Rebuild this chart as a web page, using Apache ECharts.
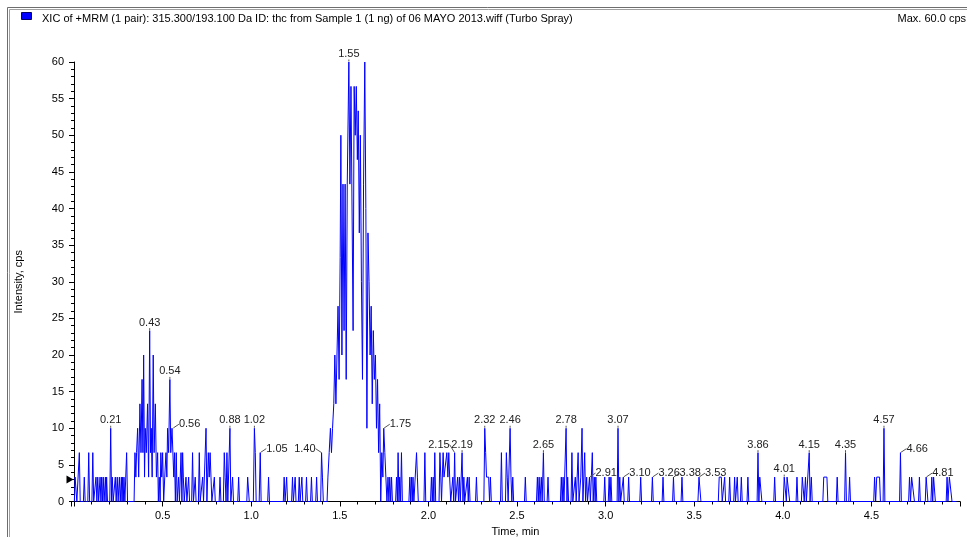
<!DOCTYPE html>
<html>
<head>
<meta charset="utf-8">
<script src="https://cdn.jsdelivr.net/npm/echarts@6/dist/echarts.min.js"></script>
<style>
  html, body { margin: 0; padding: 0; background: #ffffff; }
  #chart { width: 967px; height: 537px; }
</style>
</head>
<body>
<div id="chart"></div>
<script>
// Extracted ion chromatogram, MRM transition 315.3 -> 193.1 (THC)
const traceTitle = 'XIC of +MRM (1 pair): 315.300/193.100 Da ID: thc from Sample 1 (1 ng) of 06 MAYO 2013.wiff (Turbo Spray)';
const maxIntensityText = 'Max. 60.0 cps';
const xAxisTitle = 'Time, min';
const yAxisTitle = 'Intensity, cps';

// [retention time (min), intensity (cps)]
const xicTrace = [
  [0.002,0],[0.006,3.33],[0.011,3.33],[0.016,0],[0.025,0],[0.030,6.67],[0.035,0],[0.053,0],[0.058,3.33],[0.063,0],
  [0.078,0],[0.083,6.67],[0.088,0],[0.101,0],[0.106,6.67],[0.111,0],[0.119,0],[0.124,3.33],[0.129,0],[0.134,3.33],
  [0.139,0],[0.143,0],[0.147,3.33],[0.152,0],[0.156,3.33],[0.161,0],[0.165,3.33],[0.170,0],[0.173,0],[0.177,3.33],
  [0.181,0],[0.184,3.33],[0.189,0],[0.202,0],[0.207,10],[0.212,0],[0.216,3.33],[0.221,0],[0.229,0],[0.233,3.33],
  [0.238,0],[0.244,3.33],[0.249,0],[0.252,0],[0.256,3.33],[0.261,0],[0.267,3.33],[0.271,0],[0.274,3.33],[0.278,0],
  [0.282,3.33],[0.287,0],[0.292,0],[0.297,6.67],[0.302,0],[0.339,0],[0.344,6.67],[0.349,3.33],[0.353,6.67],[0.359,10],
  [0.365,3.33],[0.372,13.33],[0.378,6.67],[0.384,16.67],[0.389,6.67],[0.393,20],[0.398,3.33],[0.402,10],[0.408,6.67],[0.415,13.33],
  [0.421,3.33],[0.427,23.33],[0.432,6.67],[0.436,10],[0.441,3.33],[0.447,20],[0.452,6.67],[0.459,13.33],[0.465,3.33],[0.472,6.67],
  [0.476,0],[0.481,3.33],[0.486,0],[0.490,6.67],[0.495,3.33],[0.500,6.67],[0.506,0],[0.512,3.33],[0.519,6.67],[0.524,3.33],
  [0.528,10],[0.534,6.67],[0.541,16.67],[0.546,6.67],[0.553,10],[0.558,10],[0.563,3.33],[0.567,6.67],[0.572,0],[0.577,6.67],
  [0.582,0],[0.590,3.33],[0.595,0],[0.600,0],[0.604,6.67],[0.609,0],[0.613,6.67],[0.617,3.33],[0.622,0],[0.628,0],
  [0.632,3.33],[0.637,0],[0.643,0],[0.647,3.33],[0.652,0],[0.664,0],[0.669,6.67],[0.674,0],[0.680,0],[0.684,3.33],
  [0.689,0],[0.702,0],[0.707,6.67],[0.712,0],[0.721,0],[0.726,3.33],[0.731,0],[0.740,0],[0.745,10],[0.750,0],
  [0.754,3.33],[0.758,6.67],[0.763,3.33],[0.768,6.67],[0.773,3.33],[0.778,0],[0.787,0],[0.792,3.33],[0.797,0],[0.819,0],
  [0.824,3.33],[0.829,0],[0.843,0],[0.848,6.67],[0.853,3.33],[0.858,0],[0.863,6.67],[0.868,0],[0.875,0],[0.880,10],
  [0.885,0],[0.890,0],[0.895,3.33],[0.900,0],[0.924,0],[0.929,3.33],[0.934,0],[0.975,0],[0.980,3.33],[0.984,3.33],
  [0.989,0],[1.012,0],[1.018,10],[1.023,6.67],[1.028,0],[1.045,0],[1.051,6.67],[1.056,0],[1.093,0],[1.098,3.33],
  [1.103,0],[1.181,0],[1.186,3.33],[1.191,0],[1.196,0],[1.200,3.33],[1.205,0],[1.228,0],[1.233,3.33],[1.238,0],
  [1.243,0],[1.248,3.33],[1.253,0],[1.266,0],[1.271,3.33],[1.276,0],[1.281,0],[1.286,3.33],[1.291,0],[1.307,0],
  [1.312,3.33],[1.317,0],[1.335,0],[1.340,3.33],[1.345,0],[1.364,0],[1.369,3.33],[1.374,0],[1.392,0],[1.397,6.67],
  [1.402,3.33],[1.407,0],[1.428,0],[1.433,3.33],[1.440,6.67],[1.447,10],[1.453,6.67],[1.459,10],[1.466,13.33],[1.472,20],
  [1.478,13.33],[1.484,20],[1.490,26.67],[1.496,16.67],[1.502,33.33],[1.506,50],[1.512,20],[1.518,43.33],[1.524,23.33],[1.530,43.33],
  [1.536,16.67],[1.542,43.33],[1.551,60],[1.557,43.33],[1.563,56.67],[1.569,56.67],[1.575,23.33],[1.581,56.67],[1.587,50],[1.593,56.67],
  [1.599,46.67],[1.604,53.33],[1.610,36.67],[1.616,50],[1.622,30],[1.628,16.67],[1.634,43.33],[1.641,60],[1.647,40],[1.653,10],
  [1.659,36.67],[1.665,30],[1.671,20],[1.677,26.67],[1.683,13.33],[1.689,23.33],[1.695,16.67],[1.701,20],[1.707,10],[1.713,16.67],
  [1.719,6.67],[1.725,13.33],[1.731,0],[1.737,6.67],[1.743,3.33],[1.748,10],[1.754,6.67],[1.760,3.33],[1.766,0],[1.772,3.33],
  [1.777,0],[1.782,3.33],[1.787,0],[1.792,3.33],[1.797,0],[1.815,0],[1.820,3.33],[1.825,0],[1.829,6.67],[1.834,0],
  [1.838,3.33],[1.843,0],[1.848,6.67],[1.853,0],[1.890,0],[1.895,3.33],[1.900,0],[1.904,3.33],[1.909,0],[1.913,3.33],
  [1.918,0],[1.928,0],[1.933,6.67],[1.938,3.33],[1.943,0],[1.975,0],[1.980,6.67],[1.985,0],[2.012,0],[2.017,3.33],
  [2.022,0],[2.027,3.33],[2.031,0],[2.036,6.67],[2.041,0],[2.060,0],[2.065,6.67],[2.070,3.33],[2.074,0],[2.079,0],
  [2.083,6.67],[2.088,3.33],[2.093,3.33],[2.098,3.33],[2.104,6.67],[2.110,3.33],[2.115,6.67],[2.120,3.33],[2.126,0],[2.134,0],
  [2.138,3.33],[2.143,0],[2.148,6.67],[2.153,0],[2.160,0],[2.165,3.33],[2.170,0],[2.175,3.33],[2.180,0],[2.185,0],
  [2.190,6.67],[2.195,0],[2.200,3.33],[2.205,0],[2.215,0],[2.220,3.33],[2.225,0],[2.230,3.33],[2.235,0],[2.266,0],
  [2.271,3.33],[2.276,0],[2.313,0],[2.318,10],[2.323,6.67],[2.328,3.33],[2.334,3.33],[2.340,3.33],[2.345,0],[2.350,3.33],
  [2.355,0],[2.407,0],[2.412,6.67],[2.417,0],[2.435,0],[2.440,6.67],[2.445,3.33],[2.450,0],[2.456,0],[2.461,10],
  [2.466,3.33],[2.471,0],[2.476,3.33],[2.481,0],[2.542,0],[2.547,3.33],[2.552,0],[2.610,0],[2.615,3.33],[2.620,0],
  [2.625,3.33],[2.630,0],[2.637,3.33],[2.642,0],[2.649,6.67],[2.654,0],[2.670,0],[2.675,3.33],[2.680,0],[2.745,0],
  [2.750,3.33],[2.755,0],[2.760,3.33],[2.765,0],[2.772,0],[2.777,10],[2.782,0],[2.786,3.33],[2.791,0],[2.805,0],
  [2.810,6.67],[2.815,0],[2.824,0],[2.829,3.33],[2.834,0],[2.840,0],[2.845,6.67],[2.850,0],[2.855,0],[2.860,3.33],
  [2.867,10],[2.872,0],[2.877,0],[2.882,6.67],[2.887,0],[2.893,3.33],[2.898,0],[2.904,0],[2.909,3.33],[2.914,0],
  [2.920,0],[2.925,6.67],[2.930,0],[2.936,3.33],[2.941,0],[2.945,3.33],[2.950,0],[2.990,0],[2.995,3.33],[3.000,0],
  [3.015,0],[3.020,3.33],[3.025,0],[3.030,3.33],[3.035,0],[3.065,0],[3.070,10],[3.075,0],[3.080,3.33],[3.085,0],
  [3.095,0],[3.100,3.33],[3.105,0],[3.125,0],[3.130,3.33],[3.135,0],[3.193,0],[3.198,3.33],[3.203,0],[3.259,0],
  [3.264,3.33],[3.269,0],[3.319,0],[3.324,3.33],[3.329,0],[3.378,0],[3.383,3.33],[3.388,0],[3.426,0],[3.431,3.33],
  [3.436,0],[3.521,0],[3.527,3.33],[3.533,3.33],[3.538,0],[3.636,0],[3.641,3.33],[3.647,3.33],[3.653,3.33],[3.658,0],
  [3.667,0],[3.672,3.33],[3.677,0],[3.695,0],[3.700,3.33],[3.705,0],[3.723,0],[3.728,3.33],[3.733,0],[3.738,0],
  [3.743,3.33],[3.748,0],[3.761,0],[3.766,3.33],[3.771,0],[3.798,0],[3.803,3.33],[3.808,0],[3.855,0],[3.860,6.67],
  [3.865,0],[3.870,3.33],[3.876,3.33],[3.882,0],[3.949,0],[3.954,3.33],[3.959,0],[4.003,0],[4.008,3.33],[4.014,3.33],
  [4.020,0],[4.024,3.33],[4.029,3.33],[4.034,3.33],[4.039,0],[4.075,0],[4.080,3.33],[4.085,0],[4.105,0],[4.110,3.33],
  [4.116,3.33],[4.121,0],[4.128,3.33],[4.133,0],[4.144,0],[4.149,6.67],[4.154,0],[4.161,3.33],[4.166,0],[4.226,0],
  [4.231,3.33],[4.240,3.33],[4.249,3.33],[4.254,0],[4.302,0],[4.307,3.33],[4.312,0],[4.349,0],[4.354,6.67],[4.359,0],
  [4.372,0],[4.377,3.33],[4.382,0],[4.513,0],[4.518,3.33],[4.524,0],[4.530,3.33],[4.536,3.33],[4.546,3.33],[4.551,0],
  [4.566,0],[4.571,10],[4.576,0],[4.659,0],[4.664,6.67],[4.669,0],[4.710,0],[4.715,3.33],[4.721,0],[4.727,3.33],
  [4.737,3.33],[4.743,0],[4.766,0],[4.771,3.33],[4.776,0],[4.804,0],[4.809,3.33],[4.814,3.33],[4.819,0],[4.836,0],
  [4.841,3.33],[4.846,0],[4.851,3.33],[4.856,3.33],[4.861,0],[4.922,0],[4.927,3.33],[4.932,0],[4.940,3.33],[4.950,3.33],
  [4.955,0],[4.980,0]
];

// Apex retention times that carry a time label
const apexLabelTimes = [0.207, 0.427, 0.541, 0.558, 0.880, 1.018, 1.051, 1.397, 1.551, 1.748,
  2.148, 2.190, 2.318, 2.461, 2.649, 2.777, 2.909, 3.070, 3.100, 3.264, 3.383, 3.527,
  3.860, 4.008, 4.149, 4.354, 4.571, 4.664, 4.809];
// Apexes whose label sits to the right (or left) with a short leader line
const leaderRightTimes = [0.558, 1.051, 1.748, 2.909, 3.100, 3.264, 3.383, 3.527, 4.664, 4.809];
const leaderLeftTimes = [1.397];
const shiftedLeftTimes = [2.148];

// Baseline threshold level marked on the intensity axis
const thresholdLevel = 3;

const yTicks = { min: 0, max: 60, step: 5 };
const timeRange = { min: -0.017, max: 5.0 };

const FONT = '"Liberation Sans", Arial, sans-serif';

const seriesData = xicTrace.map(p => {
  if (apexLabelTimes.indexOf(p[0]) >= 0) {
    return { value: p, label: { show: true } };
  }
  return p;
});

const chart = echarts.init(document.getElementById('chart'), null, { renderer: 'canvas' });

chart.setOption({
  animation: false,
  backgroundColor: '#ffffff',
  grid: { left: 71, right: 7, top: 62, bottom: 35.5, containLabel: false, outerBoundsMode: 'none' },
  xAxis: {
    type: 'value',
    min: timeRange.min,
    max: timeRange.max,
    splitNumber: 10,
    name: xAxisTitle,
    nameLocation: 'middle',
    nameGap: 22,
    nameTextStyle: { fontFamily: FONT, fontSize: 11, color: '#000' },
    axisLine: { show: true, onZero: false, lineStyle: { color: '#000', width: 1 } },
    axisTick: { show: true, inside: false, length: 5, lineStyle: { color: '#000' } },
    minorTick: { show: true, splitNumber: 5, length: 3, lineStyle: { color: '#000' } },
    axisLabel: {
      fontFamily: FONT, fontSize: 11, color: '#000', margin: 9,
      showMinLabel: false, showMaxLabel: false,
      formatter: v => (v <= 0.01 ? '' : v.toFixed(1))
    },
    splitLine: { show: false }
  },
  yAxis: {
    type: 'value',
    min: yTicks.min,
    max: yTicks.max,
    interval: yTicks.step,
    name: yAxisTitle,
    nameLocation: 'middle',
    nameGap: 47,
    nameTextStyle: { fontFamily: FONT, fontSize: 11, color: '#000' },
    axisLine: { show: true, lineStyle: { color: '#000', width: 1 } },
    axisTick: { show: true, inside: false, length: 5, lineStyle: { color: '#000' } },
    minorTick: { show: true, splitNumber: 5, length: 3, lineStyle: { color: '#000' } },
    axisLabel: { fontFamily: FONT, fontSize: 11, color: '#000', margin: 7 },
    splitLine: { show: false }
  },
  series: [{
    type: 'line',
    data: seriesData,
    showSymbol: true,
    symbol: 'circle',
    symbolSize: 1,
    lineStyle: { color: '#0000ff', width: 1 },
    itemStyle: { color: 'rgba(0,0,255,0)', borderWidth: 0 },
    clip: false,
    label: {
      show: false,
      position: 'top',
      distance: 2,
      fontFamily: FONT,
      fontSize: 11,
      color: '#222',
      formatter: p => p.value[0].toFixed(2)
    },
    labelLine: { show: true, lineStyle: { color: '#555', width: 1 } },
    labelLayout: params => {
      const t = xicTrace[params.dataIndex][0];
      const w = params.labelRect.width;
      if (leaderRightTimes.indexOf(t) >= 0) return { dx: w / 2 + 6, dy: 4 };
      if (leaderLeftTimes.indexOf(t) >= 0) return { dx: -(w / 2 + 6), dy: 4 };
      if (shiftedLeftTimes.indexOf(t) >= 0) return { dx: -(w / 2 + 5), dy: 0 };
      return {};
    },
    markPoint: {
      silent: true,
      symbol: 'triangle',
      symbolSize: [8, 7],
      symbolRotate: -90,
      symbolOffset: [-1, 0],
      itemStyle: { color: '#000' },
      label: { show: false },
      data: [{ coord: [timeRange.min, thresholdLevel] }]
    }
  }],
  graphic: [
    // window frame
    { type: 'line', shape: { x1: 7.5, y1: 7.5, x2: 967, y2: 7.5 }, style: { stroke: '#6e6e6e', lineWidth: 1 } },
    { type: 'line', shape: { x1: 9.5, y1: 9.5, x2: 967, y2: 9.5 }, style: { stroke: '#a0a0a0', lineWidth: 1 } },
    { type: 'line', shape: { x1: 7.5, y1: 7.5, x2: 7.5, y2: 537 }, style: { stroke: '#6e6e6e', lineWidth: 1 } },
    { type: 'line', shape: { x1: 9.5, y1: 9.5, x2: 9.5, y2: 537 }, style: { stroke: '#a0a0a0', lineWidth: 1 } },
    // trace colour swatch
    { type: 'rect', shape: { x: 21.5, y: 12.5, width: 10, height: 7 }, style: { fill: '#0000ff', stroke: '#000066', lineWidth: 1 } },
    { type: 'text', left: 42, top: 13, style: { text: traceTitle, font: '11px ' + FONT, fill: '#000' } },
    { type: 'text', right: 1, top: 13, style: { text: maxIntensityText, font: '11px ' + FONT, fill: '#000' } }
  ]
});
</script>
</body>
</html>
